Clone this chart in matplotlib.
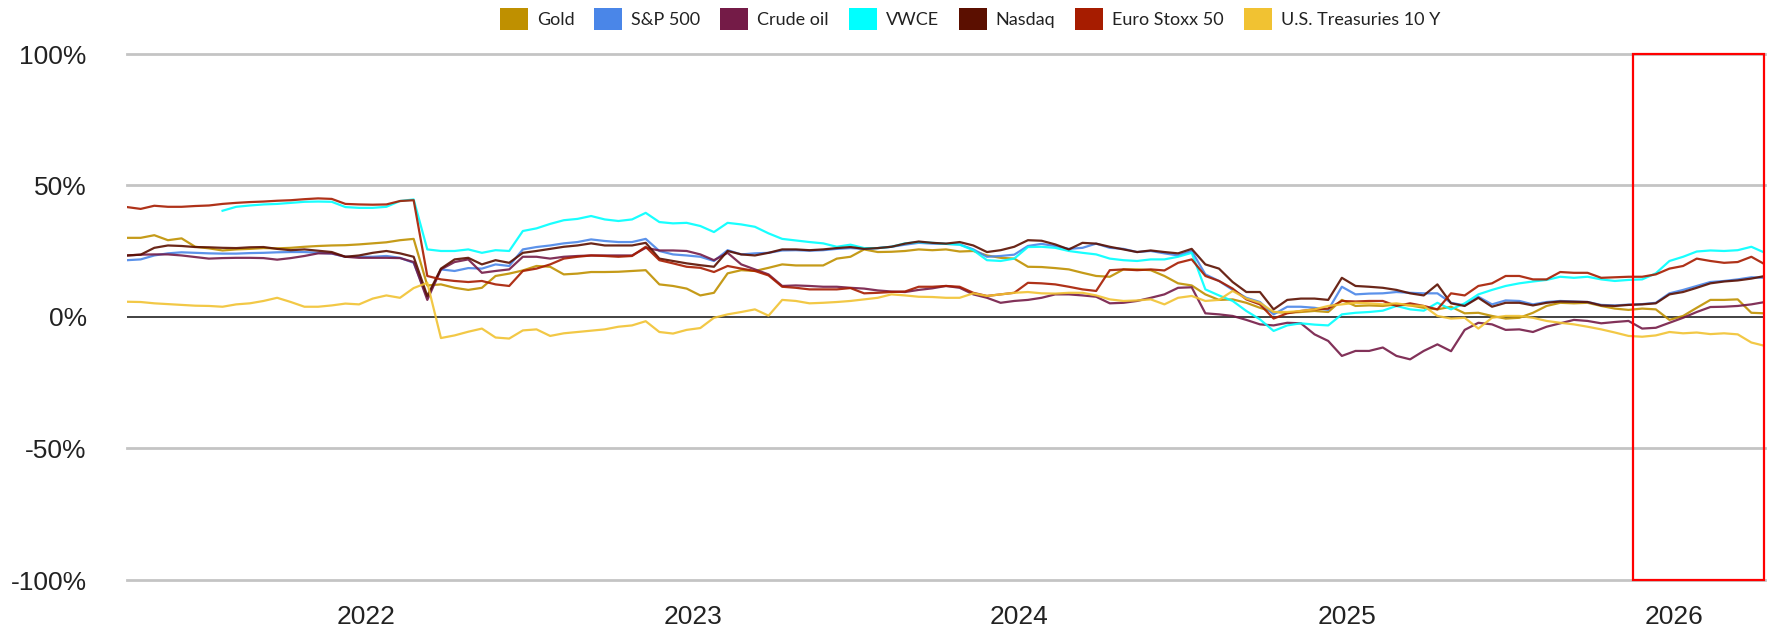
import numpy as np
import pandas as pd
import matplotlib
matplotlib.use("Agg")
import matplotlib.pyplot as plt
import matplotlib.dates as mdates
from matplotlib.patches import Patch, Rectangle

# ---- data (percent change), sampled on a regular date grid ----
dates = pd.date_range("2021-04-09", "2026-04-13", periods=121)

gold = [30.1, 30.1, 31.1, 29.2, 29.9, 26.7, 26.1, 25.3, 25.7, 25.9, 26.2, 26.1, 26.3, 26.7, 27.0, 27.2, 27.3, 27.6, 28.0, 28.4, 29.2, 29.7, 12.0, 12.4, 11.1,
        10.3, 11.1, 15.6, 16.5, 17.7, 19.4, 19.1, 16.2, 16.5, 17.1, 17.1, 17.2, 17.5, 17.8, 12.4, 11.8, 10.8, 8.2, 9.2, 16.6, 17.8, 17.5, 18.7, 20.0,
        19.6, 19.6, 19.6, 22.2, 22.9, 25.7, 24.7, 24.8, 25.1, 25.7, 25.4, 25.7, 24.9, 25.1, 23.4, 22.5, 22.2, 19.1, 19.0, 18.6, 18.1, 16.8, 15.6, 15.3,
        18.1, 18.1, 17.8, 15.6, 12.8, 12.0, 8.6, 6.5, 6.7, 5.4, 3.5, 1.9, 1.6, 1.9, 2.3, 1.9, 6.5, 4.2, 4.4, 4.2, 4.8, 4.4, 3.5, 2.9,
        3.9, 1.4, 1.6, 0.4, -0.6, -0.3, 1.6, 4.2, 5.4, 5.2, 5.4, 4.2, 3.2, 2.7, 3.2, 2.9, -1.1, 0.4, 3.5, 6.5, 6.5, 6.7, 1.6, 1.4]

sp500 = [21.6, 21.9, 23.4, 24.2, 24.6, 24.4, 24.2, 24.1, 24.1, 24.3, 24.4, 24.6, 24.7, 24.7, 24.4, 24.1, 22.9, 22.9, 22.9, 23.2, 22.5, 20.6, 7.3, 18.1, 17.5,
         18.6, 18.4, 20.0, 19.4, 25.7, 26.6, 27.2, 28.0, 28.5, 29.5, 28.9, 28.5, 28.5, 29.7, 25.1, 23.8, 23.4, 22.9, 21.3, 25.4, 23.8, 24.2, 24.4, 25.3,
         25.4, 25.2, 25.4, 25.9, 26.2, 25.9, 26.2, 26.7, 27.5, 28.2, 27.9, 27.8, 27.6, 25.7, 22.9, 23.2, 23.7, 27.0, 27.8, 27.0, 25.9, 26.3, 27.9, 26.3,
         25.9, 24.7, 25.1, 24.2, 23.4, 25.1, 16.2, 13.7, 10.3, 7.3, 5.7, 1.0, 3.9, 3.9, 3.5, 2.7, 11.5, 8.6, 8.9, 9.0, 9.5, 9.2, 9.0, 9.0,
         5.4, 4.4, 7.7, 4.8, 6.3, 6.1, 4.8, 5.7, 6.1, 5.9, 5.7, 4.6, 4.4, 4.7, 4.9, 5.4, 9.0, 10.3, 11.8, 13.3, 13.7, 14.3, 15.1, 14.9]

crude = [23.4, 23.7, 23.8, 23.8, 23.4, 22.8, 22.2, 22.4, 22.5, 22.5, 22.4, 21.8, 22.4, 23.2, 24.2, 24.2, 22.9, 22.5, 22.5, 22.5, 22.4, 20.9, 6.5, 18.1, 20.9,
         21.9, 16.8, 17.5, 18.1, 22.9, 22.9, 22.2, 22.9, 23.2, 23.4, 23.4, 23.4, 23.4, 26.3, 25.3, 25.3, 25.1, 23.8, 21.6, 24.4, 20.0, 18.1, 16.2, 11.8,
         12.0, 11.8, 11.5, 11.5, 11.1, 10.8, 10.1, 9.7, 9.5, 10.3, 10.9, 11.8, 11.1, 8.6, 7.3, 5.4, 6.1, 6.5, 7.3, 8.6, 8.6, 8.2, 7.7, 5.2,
         5.4, 6.1, 7.3, 8.6, 11.1, 11.3, 1.4, 1.0, 0.4, -1.1, -2.8, -3.2, -2.2, -2.4, -6.6, -9.1, -14.8, -12.9, -12.9, -11.6, -14.8, -16.1, -12.9, -10.4,
         -13.0, -4.9, -2.2, -2.8, -4.9, -4.7, -5.7, -3.7, -2.4, -1.1, -1.5, -2.4, -1.9, -1.5, -4.4, -4.1, -2.2, -0.3, 1.9, 3.8, 3.9, 4.2, 4.8, 5.7]

vwce = [np.nan] * 7 + [
        40.4, 41.9, 42.4, 42.8, 43.0, 43.4, 43.8, 43.9, 43.8, 41.8, 41.5, 41.5, 41.9, 44.1, 44.7, 25.7, 25.1, 25.1,
        25.7, 24.4, 25.4, 25.1, 32.7, 33.7, 35.4, 36.8, 37.3, 38.4, 37.1, 36.5, 37.1, 39.6, 36.1, 35.6, 35.8, 34.6, 32.3, 35.8, 35.2, 34.3, 31.8, 29.7,
        29.1, 28.5, 28.0, 26.7, 27.5, 26.2, 26.2, 26.7, 28.0, 28.5, 28.2, 27.8, 27.5, 25.4, 21.6, 21.3, 22.2, 26.6, 26.7, 26.3, 25.1, 24.4, 23.8, 22.2,
        21.6, 21.3, 21.9, 21.9, 22.9, 24.4, 10.5, 8.2, 6.1, 2.3, -0.9, -5.3, -3.2, -2.4, -2.9, -3.2, 1.0, 1.6, 1.9, 2.4, 4.2, 2.9, 2.4, 5.4,
        2.9, 5.2, 8.6, 10.3, 11.8, 12.8, 13.5, 14.1, 15.3, 14.9, 15.3, 14.3, 13.7, 14.1, 14.3, 16.6, 21.3, 22.9, 24.9, 25.3, 25.1, 25.4, 26.7, 24.4]

nasdaq = [23.4, 23.7, 26.3, 27.2, 27.0, 26.6, 26.5, 26.3, 26.2, 26.5, 26.6, 25.9, 25.4, 25.7, 25.2, 24.7, 22.9, 23.4, 24.4, 25.1, 24.2, 22.9, 8.0, 18.4, 21.9,
          22.5, 20.0, 21.6, 20.6, 24.4, 25.1, 25.9, 26.7, 27.2, 28.0, 27.2, 27.2, 27.2, 28.2, 22.2, 21.3, 20.4, 19.7, 19.1, 25.1, 23.8, 23.4, 24.4, 25.7,
          25.7, 25.4, 25.7, 26.2, 26.6, 25.9, 26.2, 26.7, 27.9, 28.7, 28.2, 27.9, 28.5, 27.2, 24.7, 25.4, 26.7, 29.2, 29.0, 27.6, 25.7, 28.2, 27.9, 26.7,
          25.7, 24.7, 25.3, 24.7, 24.2, 25.9, 20.0, 18.4, 13.3, 9.5, 9.5, 2.9, 6.5, 7.0, 7.0, 6.5, 14.9, 11.8, 11.5, 11.1, 10.3, 9.0, 8.2, 12.4,
          5.2, 4.2, 7.3, 3.9, 5.4, 5.4, 4.4, 5.4, 5.9, 5.8, 5.7, 4.4, 4.2, 4.6, 4.8, 5.2, 8.6, 9.5, 11.1, 12.8, 13.5, 13.9, 14.6, 15.6]

eurostoxx = [41.8, 41.1, 42.3, 41.9, 41.9, 42.2, 42.4, 43.0, 43.4, 43.7, 43.9, 44.2, 44.4, 44.8, 45.1, 44.9, 43.0, 42.8, 42.7, 42.8, 44.1, 44.4, 15.6, 14.3, 13.7,
             13.3, 13.7, 12.4, 11.8, 17.5, 18.4, 20.0, 22.2, 22.9, 23.4, 23.2, 22.9, 23.2, 26.7, 21.6, 20.4, 19.1, 18.7, 17.1, 19.4, 18.4, 17.5, 15.8, 11.5,
             11.1, 10.5, 10.5, 10.5, 11.0, 9.0, 9.2, 9.5, 9.7, 11.5, 11.5, 11.8, 11.5, 9.2, 8.0, 8.6, 9.2, 13.0, 12.8, 12.4, 11.5, 10.5, 9.9, 17.8,
             18.1, 17.8, 18.1, 17.7, 20.6, 21.9, 15.6, 13.7, 10.8, 6.7, 4.8, -0.6, 1.4, 2.3, 2.9, 3.2, 6.1, 5.9, 6.1, 6.1, 4.2, 5.2, 4.2, 2.9,
             9.0, 8.2, 11.8, 12.8, 15.6, 15.6, 14.3, 14.3, 17.1, 16.8, 16.8, 14.9, 15.1, 15.3, 15.3, 16.2, 18.4, 19.4, 22.2, 21.3, 20.6, 20.9, 22.9, 20.0]

treasuries = [5.8, 5.7, 5.2, 4.9, 4.6, 4.3, 4.2, 3.9, 4.8, 5.2, 6.1, 7.3, 5.7, 3.9, 3.9, 4.4, 5.1, 4.8, 7.0, 8.2, 7.3, 11.0, 13.0, -8.0, -7.0,
              -5.6, -4.4, -7.8, -8.2, -5.1, -4.7, -7.2, -6.2, -5.7, -5.2, -4.7, -3.7, -3.2, -1.6, -5.7, -6.3, -4.9, -4.2, -0.3, 1.0, 1.9, 2.9, 0.5, 6.5,
              6.1, 5.2, 5.4, 5.7, 6.1, 6.7, 7.3, 8.6, 8.2, 7.7, 7.6, 7.3, 7.3, 9.0, 8.0, 8.6, 9.2, 9.5, 9.0, 8.9, 9.2, 9.2, 8.2, 6.7,
              6.1, 6.3, 6.7, 4.8, 7.3, 8.0, 6.1, 6.5, 9.9, 7.0, 5.4, 1.9, 1.9, 2.3, 2.9, 4.2, 4.8, 5.4, 5.2, 4.8, 5.2, 4.4, 4.2, 0.4,
              -0.6, -0.3, -4.4, -0.3, 0.4, 0.4, -0.3, -1.5, -2.2, -2.8, -3.7, -4.7, -5.9, -7.2, -7.5, -7.0, -5.7, -6.2, -5.9, -6.5, -6.2, -6.6, -9.7, -11.0]

series_names = ["Gold", "S&P 500", "Crude oil", "VWCE", "Nasdaq", "Euro Stoxx 50", "U.S. Treasuries 10 Y"]
series_values = [gold, sp500, crude, vwce, nasdaq, eurostoxx, treasuries]
series_colors = ["#bf9000", "#4a86e8", "#741b47", "#00ffff", "#5b0f00", "#a61c00", "#f1c232"]

y_ticks = [-100, -50, 0, 50, 100]
y_labels = ["-100%", "-50%", "0%", "50%", "100%"]
year_ticks = ["2022", "2023", "2024", "2025", "2026"]
highlight_start = "2025-11-16"

# ---- figure ----
W, H, DPI = 1768, 630, 100
fig = plt.figure(figsize=(W / DPI, H / DPI), dpi=DPI)
ax = fig.add_axes([127 / W, 1 - 580 / H, (1765 - 127) / W, (580 - 54) / H])

for name, vals, col in zip(series_names, series_values, series_colors):
    assert len(vals) == len(dates), (name, len(vals))
    ax.plot(dates, np.array(vals, dtype=float), color=col, lw=1.6, alpha=0.9,
            solid_joinstyle="round", zorder=3)

ax.set_ylim(-100, 100)
ax.set_xlim(dates[0], dates[-1])
ax.set_yticks(y_ticks)
ax.set_yticklabels(y_labels)
ax.set_xticks([pd.Timestamp(f"{y}-01-01") for y in year_ticks])
ax.set_xticklabels(year_ticks)

for v in y_ticks:
    if v == 0:
        ax.axhline(v, color="#333333", lw=1.3, zorder=2)
    else:
        ax.axhline(v, color="#c4c4c4", lw=2.0, zorder=1, clip_on=False)

for s in ax.spines.values():
    s.set_visible(False)
ax.tick_params(axis="both", length=0, labelsize=19, labelcolor="#222222")
ax.tick_params(axis="y", pad=29)
ax.tick_params(axis="x", pad=18)
for lab in ax.get_xticklabels() + ax.get_yticklabels():
    lab.set_fontfamily("Liberation Sans")

# highlighted recent period
x0 = mdates.date2num(pd.Timestamp(highlight_start))
x1 = mdates.date2num(dates[-1])
ax.add_patch(Rectangle((x0, -100), x1 - x0 - 1.5, 200, fill=False, edgecolor="#ff0000",
                       lw=1.6, zorder=5, clip_on=False))

handles = [Patch(facecolor=c, edgecolor="none", label=n) for n, c in zip(series_names, series_colors)]
leg = fig.legend(handles=handles, loc="center", bbox_to_anchor=(970 / W, 1 - 19 / H), ncol=7,
                 frameon=False, prop={"family": "Lato", "size": 13},
                 handlelength=1.55, handleheight=1.45, handletextpad=0.5, columnspacing=1.1)
for t in leg.get_texts():
    t.set_color("#222222")

fig.savefig("out.png", dpi=DPI)
